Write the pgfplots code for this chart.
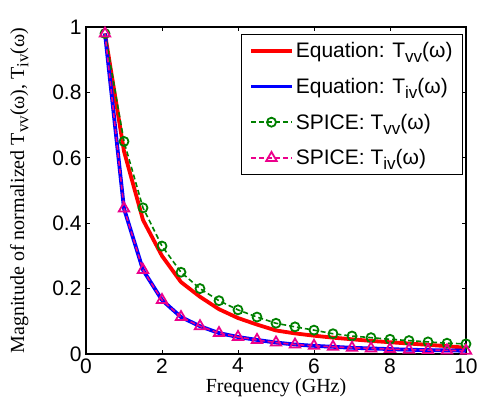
\documentclass[border=0pt]{standalone}
\usepackage{fontspec}
\setmainfont{Liberation Serif}
\newfontfamily\arial{Liberation Sans}
\usepackage{pgfplots}
\pgfplotsset{compat=1.18}
\definecolor{mgreen}{rgb}{0,0.5,0}
\newcommand{\sub}[1]{\raisebox{-0.45ex}{\fontsize{17}{19}\selectfont #1}}
\begin{document}
\begin{tikzpicture}
\useasboundingbox (-86pt,-54pt) rectangle (391pt,354pt);
\begin{axis}[
  at={(0pt,0pt)}, anchor=origin,
  scale only axis,
  width=380pt, height=327pt,
  xmin=0, xmax=10, ymin=0, ymax=1,
  xtick={0,2,4,6,8,10},
  ytick={0,0.2,0.4,0.6,0.8,1},
  yticklabels={0,0.2,0.4,0.6,0.8,1},
  xticklabels={0,2,4,6,8,10},
  tick align=inside,
  major tick length=4pt,
  axis line style={line width=1.2pt},
  every tick/.style={black, line width=0.8pt},
  tick label style={font=\arial\fontsize{21}{23}\selectfont},
  xticklabel style={yshift=-1pt},
  yticklabel style={xshift=-1pt},
  label style={font=\fontsize{20}{22}\selectfont},
  xlabel={Frequency (GHz)},
  ylabel={Magnitude of normalized T\sub{vv}(ω), T\sub{iv}(ω)},
  xlabel style={at={(axis description cs:0.5,0)}, anchor=north, yshift=-21pt},
  ylabel style={at={(axis description cs:0,0.5)}, anchor=south, yshift=54pt},
  legend style={at={(1,1)}, anchor=north east, xshift=-3pt, yshift=-7pt,
    font=\arial\fontsize{21}{23}\selectfont, draw=black, line width=0.8pt,
    row sep=15pt, inner xsep=8pt, inner ysep=6pt, cells={anchor=west}},
  legend image code/.code={
    \draw[mark repeat=2,mark phase=2] plot coordinates {(0cm,0cm) (0.72cm,0cm) (1.44cm,0cm)};},
  legend cell align=left,
]
\addplot[red, line width=3.8pt] coordinates {
(0.5,0.98)(1,0.62)(1.5,0.41)(2,0.30)(2.5,0.22)(3,0.175)(3.5,0.137)(4,0.11)(4.5,0.09)(5,0.072)
(5.5,0.063)(6,0.056)(6.5,0.05)(7,0.045)(7.5,0.04)(8,0.036)(8.5,0.032)(9,0.028)(9.5,0.024)(10,0.019)};
\addlegendentry{Equation: T\sub{vv}(ω)}
\addplot[blue, line width=3.8pt] coordinates {
(0.5,0.98)(1,0.445)(1.5,0.257)(2,0.165)(2.5,0.113)(3,0.085)(3.5,0.064)(4,0.052)(4.5,0.043)(5,0.035)
(5.5,0.029)(6,0.025)(6.5,0.022)(7,0.019)(7.5,0.017)(8,0.015)(8.5,0.013)(9,0.012)(9.5,0.011)(10,0.01)};
\addlegendentry{Equation: T\sub{iv}(ω)}
\addplot[mgreen, line width=1.6pt, dash pattern=on 5pt off 3pt, mark=o, mark size=4.5pt, mark options={solid, line width=1.8pt}] coordinates {
(0.5,0.98)(1,0.65)(1.5,0.447)(2,0.33)(2.5,0.25)(3,0.20)(3.5,0.163)(4,0.135)(4.5,0.113)(5,0.094)
(5.5,0.083)(6,0.073)(6.5,0.062)(7,0.055)(7.5,0.05)(8,0.045)(8.5,0.041)(9,0.037)(9.5,0.033)(10,0.031)};
\addlegendentry{SPICE: T\sub{vv}(ω)}
\addplot[magenta, line width=1.6pt, dash pattern=on 5pt off 3pt, mark=triangle, mark size=6pt, mark options={solid, line width=1.8pt}] coordinates {
(0.5,0.98)(1,0.445)(1.5,0.257)(2,0.165)(2.5,0.113)(3,0.085)(3.5,0.064)(4,0.052)(4.5,0.043)(5,0.035)
(5.5,0.029)(6,0.025)(6.5,0.022)(7,0.019)(7.5,0.017)(8,0.015)(8.5,0.013)(9,0.012)(9.5,0.011)(10,0.01)};
\addlegendentry{SPICE: T\sub{iv}(ω)}
\end{axis}
\end{tikzpicture}
\end{document}
